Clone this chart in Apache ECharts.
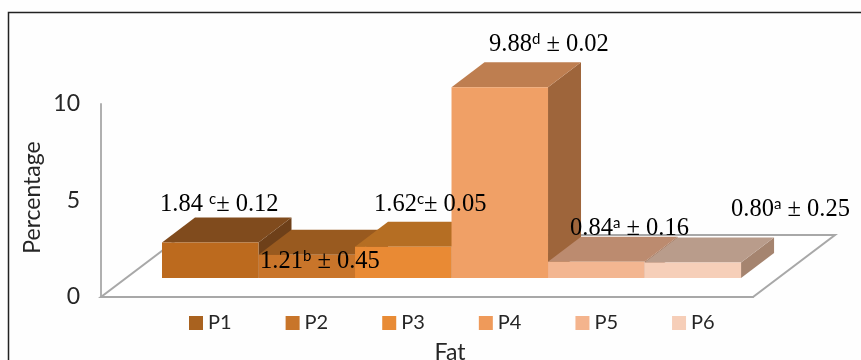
<!DOCTYPE html>
<html>
<head>
<meta charset="utf-8">
<style>
  html, body { margin: 0; padding: 0; background: #fff; }
  #chart { width: 861px; height: 360px; }
</style>
<script src="https://cdn.jsdelivr.net/npm/echarts@6/dist/echarts.min.js"></script>
</head>
<body>
<div id="chart"></div>
<script>
// data
const names = ['P1', 'P2', 'P3', 'P4', 'P5', 'P6'];
const values = [1.84, 1.21, 1.62, 9.88, 0.84, 0.80];
const letters = ['c', 'b', 'c', 'd', 'a', 'a'];
const errors = [0.12, 0.45, 0.05, 0.02, 0.16, 0.25];
const yTicks = [0, 5, 10];

// colours
const frontColors = ['#BC6A1E', '#C9752A', '#E98A34', '#F0A066', '#F3B691', '#F6CFB9'];
const topColors = ['#804B1D', '#995A1F', '#B56E23', '#BE7E50', '#BC8B6F', '#B99C8B'];
const sideColors = ['#6E4019', '#80491A', '#97591D', '#9E653B', '#A07359', '#A5846F'];
const legendColors = ['#A9621F', '#C8752A', '#E88B35', '#EF9A5A', '#F4B48D', '#F6CEB8'];

// label placement (left x, centre y) and the odd spacing around the letter
const labelPos = [[160, 205], [260, 262], [374, 205], [489, 45], [570, 229], [731, 210]];
const gapsBefore = [' ', '', '', '', '', ''];
const gapsAfter = ['', ' ', '', ' ', ' ', ' '];

// fake 3D
const floorDepth = [82, -62];
const barShift = [61, -19];
const barDepth = [33, -25];
const xMin = -0.5;
const xMax = 6.256;

const myChart = echarts.init(document.getElementById('chart'));

const renderFloor = (params, api) => {
  const a = api.coord([xMin, 0]);
  const b = api.coord([xMax, 0]);
  return {
    type: 'polygon',
    shape: {
      points: [a, b, [b[0] + floorDepth[0], b[1] + floorDepth[1]], [a[0] + floorDepth[0], a[1] + floorDepth[1]]]
    },
    style: { fill: '#fff', stroke: '#A8A8A8', lineWidth: 2 }
  };
};

const renderBar = (i) => (params, api) => {
  const x = api.value(0);
  const l = api.coord([x - 0.5, 0]);
  const r = api.coord([x + 0.5, 0]);
  const t = api.coord([x, api.value(1)]);
  const x0 = l[0] + barShift[0];
  const x1 = r[0] + barShift[0];
  const bottom = l[1] + barShift[1];
  const top = t[1] + barShift[1];
  const dx = barDepth[0];
  const dy = barDepth[1];
  return {
    type: 'group',
    children: [
      {
        type: 'polygon',
        shape: { points: [[x1, top], [x1 + dx, top + dy], [x1 + dx, bottom + dy], [x1, bottom]] },
        style: { fill: sideColors[i] }
      },
      {
        type: 'polygon',
        shape: { points: [[x0, top], [x0 + dx, top + dy], [x1 + dx, top + dy], [x1, top]] },
        style: { fill: topColors[i] }
      },
      {
        type: 'polygon',
        shape: { points: [[x0, top], [x1, top], [x1, bottom], [x0, bottom]] },
        style: { fill: frontColors[i] }
      }
    ]
  };
};

const labelRich = {
  n: { fontFamily: 'Liberation Serif', fontSize: 24.5, color: '#222', lineHeight: 26, verticalAlign: 'middle' },
  s: { fontFamily: 'Lato', fontSize: 15, color: '#333', lineHeight: 26, verticalAlign: 'top' }
};

const labelGraphics = values.map((v, i) => ({
  type: 'text',
  z: 50,
  x: labelPos[i][0],
  y: labelPos[i][1],
  style: {
    text: '{n|' + v.toFixed(2) + gapsBefore[i] + '}{s|' + letters[i] + '}{n|' + gapsAfter[i] + '\u00B1 ' + errors[i].toFixed(2) + '}',
    rich: labelRich,
    verticalAlign: 'middle'
  }
}));

const options = {
  backgroundColor: '#FEFEFE',
  animation: false,
  grid: { left: 101, right: 108, top: 104, bottom: 63, outerBoundsMode: 'none' },
  xAxis: {
    type: 'value',
    min: xMin,
    max: xMax,
    splitLine: { show: false },
    axisTick: { show: false },
    axisLabel: { show: false },
    axisLine: { show: true, onZero: false, lineStyle: { color: '#A8A8A8', width: 2 } },
    name: 'Fat',
    nameLocation: 'middle',
    nameGap: 44,
    nameTextStyle: { fontFamily: 'Lato', fontSize: 23, color: '#262626', padding: [0, 0, 0, 46] }
  },
  yAxis: {
    type: 'value',
    min: yTicks[0],
    max: yTicks[yTicks.length - 1],
    interval: 5,
    splitLine: { show: false },
    axisTick: { show: false },
    axisLine: { show: true, onZero: false, lineStyle: { color: '#B0B0B0', width: 2 } },
    axisLabel: { fontFamily: 'Lato', fontSize: 23, color: '#262626', margin: 21 },
    name: 'Percentage',
    nameLocation: 'middle',
    nameGap: 57,
    nameMoveOverlap: false,
    nameTextStyle: { fontFamily: 'Lato', fontSize: 23, color: '#262626', padding: [0, 0, 0, 6] }
  },
  legend: {
    data: names,
    left: 184,
    top: 308,
    icon: 'rect',
    itemWidth: 14,
    itemHeight: 14,
    itemGap: 54,
    textStyle: { fontFamily: 'Lato', fontSize: 20, color: '#262626' }
  },
  graphic: [
    {
      type: 'polyline',
      z: 60,
      shape: { points: [[8.5, 360], [8.5, 12.5], [861, 12.5]] },
      style: { fill: 'none', stroke: '#222', lineWidth: 1.5 }
    },
    ...labelGraphics
  ],
  series: [
    {
      type: 'custom',
      name: 'floor',
      renderItem: renderFloor,
      data: [[0, 0]],
      silent: true,
      z: 1
    },
    ...names.map((name, i) => ({
      type: 'custom',
      name: name,
      renderItem: renderBar(i),
      itemStyle: { color: legendColors[i] },
      data: [[i, values[i]]],
      clip: false,
      z: 2 + i
    }))
  ]
};
myChart.setOption(options);
</script>
</body>
</html>
